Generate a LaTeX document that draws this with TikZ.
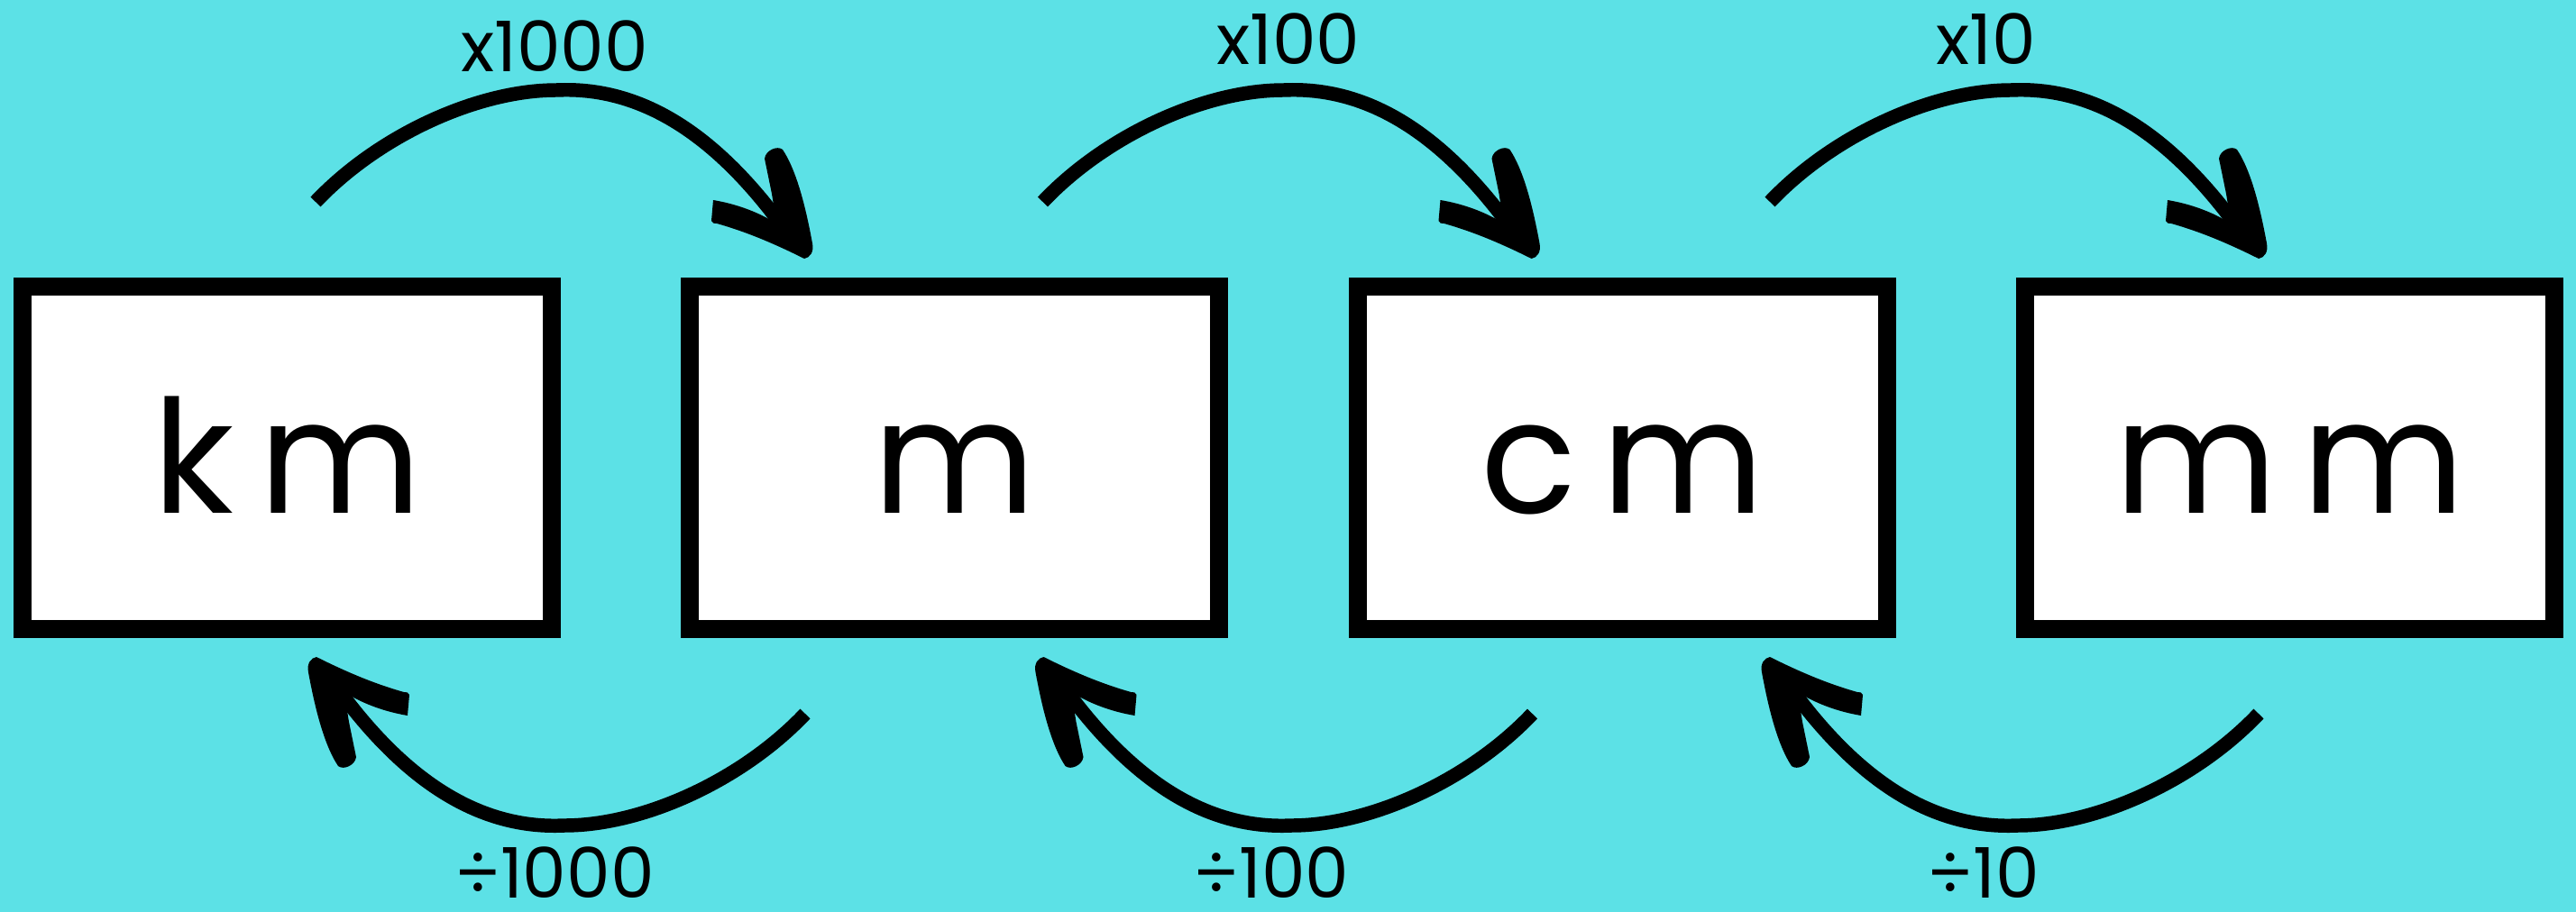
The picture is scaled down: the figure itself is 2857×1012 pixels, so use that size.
\documentclass[tikz,border=0pt]{standalone}
\usepackage{fontspec}
\setmainfont{Poppins}
\newfontfamily\unitfont[LetterSpace=16]{Poppins}
\newfontfamily\lblfont{Poppins}
\definecolor{bgcyan}{HTML}{5CE1E6}
\tikzset{
  unitbox/.style={draw=black, line width=5.69pt, fill=white,
    minimum width=5.87cm, minimum height=3.80cm, inner sep=0pt,
    text height=1.22cm, text depth=0pt,
    font=\unitfont\fontsize{49.8pt}{50pt}\selectfont},
  lbl/.style={inner sep=0pt, text depth=0pt, font=\lblfont\fontsize{22pt}{23pt}\selectfont},
  shaft/.style={draw=black, line width=4.4pt, line cap=butt},
  barb/.style={fill=black},
}
\newcommand\convarrow[1]{%
  \coordinate (#1s) at (350,224);
  \coordinate (#1p) at (617,100);
  \coordinate (#1e) at (882,271);
  \coordinate (#1t) at (892,287);
  \draw[shaft] (#1s) .. controls (420,150) and (530,100) .. (#1p)
     .. controls (720,95) and (806,160) .. (#1e);
  % upper barb
  \fill[barb] (#1t) .. controls (898,286) and (903,280) .. (901,270)
     .. controls (894,232) and (884,190) .. (868,166)
     .. controls (862,161) and (849,167) .. (848,176)
     -- (856,215) -- (860,240) -- (870,262) -- cycle;
  % left barb
  \fill[barb] (#1t) -- (864,250)
     .. controls (842,235) and (815,226) .. (791,222)
     -- (789,245) .. controls (790,248) and (792,248) .. (795,248)
     .. controls (827,257) and (858,270) .. (#1t) -- cycle;
}
\begin{document}
\begin{tikzpicture}[x=0.01cm, y=-0.01cm]
  \fill[bgcyan] (0,0) rectangle (2857,1012);
  \useasboundingbox (0,0) rectangle (2857,1012);
  % unit boxes
  \node[unitbox] (km) at (318.5,508) {km};
  \node[unitbox] (m)  at (1058.5,508) {m};
  \node[unitbox] (cm) at (1799.5,508) {cm};
  \node[unitbox] (mm) at (2539.5,508) {mm};
  % top arrows
  \begin{scope}\convarrow{ua}\end{scope}
  \begin{scope}[shift={(806.5,0)}]\convarrow{ub}\end{scope}
  \begin{scope}[shift={(1613,0)}]\convarrow{uc}\end{scope}
  % bottom arrows
  \begin{scope}\begin{scope}[rotate around={180:(621.5,508)}]\convarrow{da}\end{scope}\end{scope}
  \begin{scope}[shift={(806.5,0)}]\begin{scope}[rotate around={180:(621.5,508)}]\convarrow{db}\end{scope}\end{scope}
  \begin{scope}[shift={(1612,0)}]\begin{scope}[rotate around={180:(621.5,508)}]\convarrow{dc}\end{scope}\end{scope}
  % labels
  \node[lbl, anchor=base] (l1) at (615,79) {x1000};
  \node[lbl, anchor=base] (l2) at (1429,71) {x100};
  \node[lbl, anchor=base] (l3) at (2203,71) {x10};
  \node[lbl, anchor=base] (l4) at (615,996) {÷1000};
  \node[lbl, anchor=base] (l5) at (1410,996) {÷100};
  \node[lbl, anchor=base] (l6) at (2200,996) {÷10};
\end{tikzpicture}
\end{document}
